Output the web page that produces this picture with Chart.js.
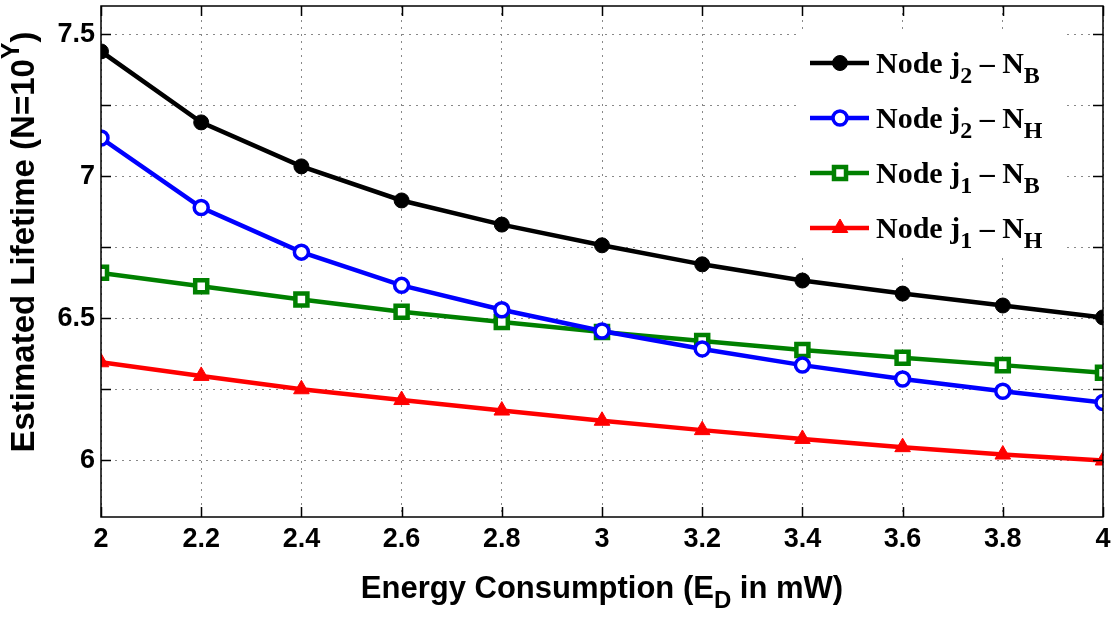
<!DOCTYPE html>
<html>
<head>
<meta charset="utf-8">
<script src="https://cdn.jsdelivr.net/npm/chart.js@4/dist/chart.umd.min.js"></script>
<style>
  html, body { margin: 0; padding: 0; background: #fff; }
  #wrap { width: 1112px; height: 618px; }
</style>
</head>
<body>
<div id="wrap"><canvas id="myChart" width="1112" height="618"></canvas></div>
<script>
// energy consumption (mW)
const energy = [2, 2.2, 2.4, 2.6, 2.8, 3, 3.2, 3.4, 3.6, 3.8, 4];

// estimated lifetime, exponent Y of N = 10^Y
const j2NB = [7.44, 7.19, 7.035, 6.915, 6.83, 6.757, 6.69, 6.633, 6.587, 6.545, 6.503];
const j2NH = [7.135, 6.89, 6.733, 6.616, 6.53, 6.455, 6.392, 6.335, 6.286, 6.243, 6.203];
const j1NB = [6.66, 6.613, 6.566, 6.523, 6.487, 6.452, 6.42, 6.388, 6.361, 6.335, 6.308];
const j1NH = [6.345, 6.297, 6.25, 6.212, 6.175, 6.139, 6.106, 6.075, 6.046, 6.02, 5.999];

const xTickValues = [2, 2.2, 2.4, 2.6, 2.8, 3, 3.2, 3.4, 3.6, 3.8, 4];
const xTickLabels = ['2', '2.2', '2.4', '2.6', '2.8', '3', '3.2', '3.4', '3.6', '3.8', '4'];
const yTickValues = [6, 6.25, 6.5, 6.75, 7, 7.25, 7.5];
const yTickLabels = ['6', '', '6.5', '', '7', '', '7.5'];

// legend entries
const legendItems = [
  { text: 'Node j', sub1: '2', mid: ' \u2013 N', sub2: 'B' },
  { text: 'Node j', sub1: '2', mid: ' \u2013 N', sub2: 'H' },
  { text: 'Node j', sub1: '1', mid: ' \u2013 N', sub2: 'B' },
  { text: 'Node j', sub1: '1', mid: ' \u2013 N', sub2: 'H' },
];

function toPoints(ys) {
  return energy.map((x, i) => ({ x: x, y: ys[i] }));
}

const datasets = [
  {
    label: 'Node j2 - NB', data: toPoints(j2NB),
    borderColor: '#000000', backgroundColor: '#000000',
    pointStyle: 'circle', pointRadius: 7.5, pointBorderWidth: 1,
  },
  {
    label: 'Node j2 - NH', data: toPoints(j2NH),
    borderColor: '#0000ff', backgroundColor: '#ffffff',
    pointStyle: 'circle', pointRadius: 7, pointBorderWidth: 3.5,
  },
  {
    label: 'Node j1 - NB', data: toPoints(j1NB),
    borderColor: '#008000', backgroundColor: '#ffffff',
    pointStyle: 'rect', pointRadius: 8.5, pointBorderWidth: 4.5,
  },
  {
    label: 'Node j1 - NH', data: toPoints(j1NH),
    borderColor: '#ff0000', backgroundColor: '#ff0000',
    pointStyle: 'triangle', pointRadius: 9, pointBorderWidth: 1,
  },
];
datasets.forEach(d => {
  d.borderWidth = 4.5;
  d.pointBorderColor = d.borderColor;
  d.pointBackgroundColor = d.backgroundColor;
  d.tension = 0;
});

const tickFont = { family: 'Liberation Sans, Arial, sans-serif', size: 27, weight: 'bold' };
const gridCfg = { color: '#888888', lineWidth: 1, tickLength: 0, drawTicks: false };

// box, inward ticks, axis titles and legend
const decorations = {
  id: 'decorations',
  afterDraw(chart) {
    const ctx = chart.ctx;
    const a = chart.chartArea;
    const xs = chart.scales.x, ys = chart.scales.y;
    ctx.save();

    // legend (white box on top of the grid)
    ctx.fillStyle = '#ffffff';
    ctx.fillRect(797, 30, 265, 225);
    const rowY = [63, 118, 173, 228];
    legendItems.forEach((item, i) => {
      const d = datasets[i];
      const y = rowY[i];
      ctx.strokeStyle = d.borderColor;
      ctx.lineWidth = d.borderWidth;
      ctx.beginPath();
      ctx.moveTo(810, y);
      ctx.lineTo(869, y);
      ctx.stroke();
      ctx.fillStyle = d.backgroundColor;
      ctx.lineWidth = d.pointBorderWidth;
      Chart.helpers.drawPoint(ctx, {
        pointStyle: d.pointStyle, radius: d.pointRadius, borderWidth: d.pointBorderWidth, rotation: 0
      }, 840, y);

      ctx.fillStyle = '#000000';
      ctx.textBaseline = 'alphabetic';
      ctx.textAlign = 'left';
      const base = y + 10;
      const bigF = 'bold 30px "Liberation Serif", "Times New Roman", serif';
      const subF = 'bold 24px "Liberation Serif", "Times New Roman", serif';
      let x = 876;
      ctx.font = bigF;
      ctx.fillText(item.text, x, base);
      x += ctx.measureText(item.text).width;
      ctx.font = subF;
      ctx.fillText(item.sub1, x, base + 10);
      x += ctx.measureText(item.sub1).width;
      ctx.font = bigF;
      ctx.fillText(item.mid, x, base);
      x += ctx.measureText(item.mid).width;
      ctx.font = subF;
      ctx.fillText(item.sub2, x, base + 10);
    });

    // plot box
    ctx.strokeStyle = '#000000';
    ctx.lineWidth = 1.5;
    ctx.strokeRect(a.left, a.top, a.right - a.left, a.bottom - a.top);

    // inward tick marks
    ctx.beginPath();
    yTickValues.forEach(v => {
      const py = Math.round(ys.getPixelForValue(v)) + 0.5;
      ctx.moveTo(a.left, py); ctx.lineTo(a.left + 10, py);
      ctx.moveTo(a.right, py); ctx.lineTo(a.right - 10, py);
    });
    xTickValues.forEach(v => {
      const px = Math.round(xs.getPixelForValue(v)) + 0.5;
      ctx.moveTo(px, a.bottom); ctx.lineTo(px, a.bottom - 10);
      ctx.moveTo(px, a.top); ctx.lineTo(px, a.top + 10);
    });
    ctx.stroke();

    // x title with subscript
    ctx.fillStyle = '#000000';
    ctx.textAlign = 'left';
    ctx.textBaseline = 'alphabetic';
    let big = 'bold 31px "Liberation Sans", Arial, sans-serif';
    let small = 'bold 24px "Liberation Sans", Arial, sans-serif';
    const parts = [['Energy Consumption (E', big, 0], ['D', small, 10], [' in mW)', big, 0]];
    let total = 0;
    parts.forEach(p => { ctx.font = p[1]; total += ctx.measureText(p[0]).width; });
    let tx = (a.left + a.right) / 2 - total / 2;
    parts.forEach(p => {
      ctx.font = p[1];
      ctx.fillText(p[0], tx, 598 + p[2]);
      tx += ctx.measureText(p[0]).width;
    });

    // y title with superscript
    big = 'bold 33px "Liberation Sans", Arial, sans-serif';
    small = 'bold 25px "Liberation Sans", Arial, sans-serif';
    ctx.save();
    ctx.translate(34, 242);
    ctx.rotate(-Math.PI / 2);
    const yparts = [['Estimated Lifetime (N=10', big, 0], ['Y', small, -15], [')', big, 0]];
    total = 0;
    yparts.forEach(p => { ctx.font = p[1]; total += ctx.measureText(p[0]).width; });
    tx = -total / 2;
    yparts.forEach(p => {
      ctx.font = p[1];
      ctx.fillText(p[0], tx, p[2]);
      tx += ctx.measureText(p[0]).width;
    });
    ctx.restore();

    ctx.restore();
  }
};

const ctx = document.getElementById('myChart').getContext('2d');
const chart = new Chart(ctx, {
  type: 'line',
  data: { datasets: datasets },
  options: {
    responsive: false,
    animation: false,
    devicePixelRatio: 1,
    layout: { autoPadding: false, padding: { top: 6, right: 9, left: 0, bottom: 0 } },
    plugins: {
      legend: { display: false },
      tooltip: { enabled: false },
    },
    scales: {
      x: {
        type: 'linear',
        min: 2, max: 4,
        afterBuildTicks: (scale) => { scale.ticks = xTickValues.map(v => ({ value: v })); },
        afterFit: (scale) => {
          scale.height = 101;
          scale.paddingLeft = 0; scale.paddingRight = 0;
        },
        ticks: {
          autoSkip: false, maxRotation: 0, padding: 6, color: '#000000', font: tickFont,
          callback: (value) => xTickLabels[xTickValues.indexOf(value)],
        },
        grid: Object.assign({}, gridCfg),
        border: { display: false, dash: [2, 5] },
      },
      y: {
        type: 'linear',
        min: 5.8, max: 7.6,
        afterBuildTicks: (scale) => { scale.ticks = yTickValues.map(v => ({ value: v })); },
        afterFit: (scale) => {
          scale.width = 101;
          scale.paddingTop = 0; scale.paddingBottom = 0;
        },
        ticks: {
          autoSkip: false, padding: 6, color: '#000000', font: tickFont,
          callback: (value) => yTickLabels[yTickValues.indexOf(value)],
        },
        grid: Object.assign({}, gridCfg),
        border: { display: false, dash: [2, 5] },
      },
    },
  },
  plugins: [decorations],
});
</script>
</body>
</html>
